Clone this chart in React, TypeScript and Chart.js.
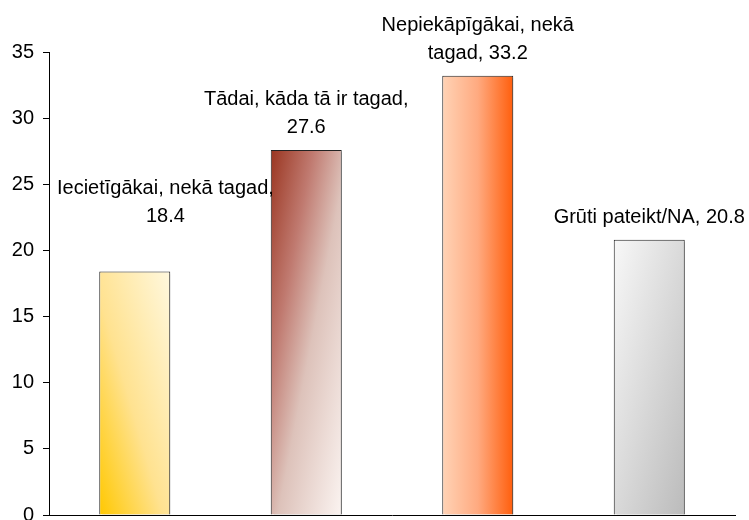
import React, { useEffect, useRef } from 'react';
import { Chart, registerables } from 'chart.js';

Chart.register(...registerables);

const categories = [
  'Iecietīgākai, nekā tagad',
  'Tādai, kāda tā ir tagad',
  'Nepiekāpīgākai, nekā tagad',
  'Grūti pateikt/NA',
];
const values = [18.4, 27.6, 33.2, 20.8];
const yMin = 0;
const yMax = 35;
const yStep = 5;

const FONT = '"Liberation Sans", Arial, sans-serif';
const BAR_PCT = 0.414;

type Grad = { dir: 'diagUp' | 'diagDown' | 'horizontal'; stops: [number, string][] };
const gradients: Grad[] = [
  { dir: 'diagUp', stops: [[0, '#FFC800'], [0.45, '#FFE290'], [1, '#FFF8DE']] },
  { dir: 'diagDown', stops: [[0, '#9A3520'], [0.3, '#C07A70'], [0.55, '#DDC2BA'], [1, '#FBF4F1']] },
  { dir: 'horizontal', stops: [[0, '#FFD3B6'], [0.5, '#FFAA80'], [1, '#FF5E0C']] },
  { dir: 'diagDown', stops: [[0, '#F8F8F8'], [1, '#BBBBBB']] },
];

function wrap(ctx: CanvasRenderingContext2D, text: string, maxWidth: number): string[] {
  const words = text.split(' ');
  const lines: string[] = [];
  let cur = '';
  for (const w of words) {
    const test = cur ? cur + ' ' + w : w;
    if (cur && ctx.measureText(test).width > maxWidth) {
      lines.push(cur);
      cur = w;
    } else {
      cur = test;
    }
  }
  if (cur) lines.push(cur);
  return lines;
}

const shadowPlugin = {
  id: 'barShadow',
  beforeDatasetDraw(chart: any) {
    const ctx = chart.ctx;
    ctx.save();
    ctx.shadowColor = 'rgba(0,0,0,0.15)';
    ctx.shadowOffsetX = 3;
    ctx.shadowOffsetY = 2;
    ctx.shadowBlur = 0;
  },
  afterDatasetDraw(chart: any) {
    chart.ctx.restore();
  },
};

const labelPlugin = {
  id: 'barLabels',
  afterDatasetsDraw(chart: any, _args: any, opts: any) {
    const ctx = chart.ctx as CanvasRenderingContext2D;
    const meta = chart.getDatasetMeta(0);
    ctx.save();
    ctx.font = `${opts.size}px ${FONT}`;
    ctx.fillStyle = '#000';
    ctx.textAlign = 'center';
    ctx.textBaseline = 'alphabetic';
    meta.data.forEach((bar: any, i: number) => {
      const text = `${categories[i]}, ${values[i]}`;
      const lines = wrap(ctx, text, opts.maxWidth);
      const maxW = Math.max(...lines.map((l) => ctx.measureText(l).width));
      let x = bar.x;
      const minX = chart.chartArea.left + opts.edge + maxW / 2;
      if (x < minX) x = minX;
      const lift = (opts.lift && opts.lift[i]) || 0;
      const lastBase = bar.y - opts.gap - lift;
      lines.forEach((l, j) => {
        ctx.fillText(l, x, lastBase - (lines.length - 1 - j) * opts.lineHeight);
      });
    });
    ctx.restore();
  },
};

export default function App() {
  const ref = useRef<HTMLCanvasElement | null>(null);

  useEffect(() => {
    if (!ref.current) return;
    const chart = new Chart(ref.current, {
      type: 'bar',
      data: {
        labels: categories,
        datasets: [
          {
            data: values,
            borderColor: '#222222',
            borderWidth: 1,
            barPercentage: BAR_PCT,
            categoryPercentage: 1,
            backgroundColor: (c: any) => {
              const i = c.dataIndex;
              const g = gradients[i] || gradients[0];
              const ch = c.chart;
              const xs = ch.scales && ch.scales.x;
              const ys = ch.scales && ch.scales.y;
              if (!ch.chartArea || !xs || !ys || i === undefined) return g.stops[0][1];
              const cw = xs.width / categories.length;
              const w = cw * BAR_PCT;
              const cx = xs.getPixelForValue(i);
              const L = cx - w / 2;
              const R = cx + w / 2;
              const T = ys.getPixelForValue(values[i]);
              const B = ys.getPixelForValue(0);
              const h = B - T;
              const k = (2 * w * h) / (h * h + w * w);
              let grad: CanvasGradient;
              if (g.dir === 'horizontal') {
                grad = ch.ctx.createLinearGradient(L, 0, R, 0);
              } else if (g.dir === 'diagDown') {
                grad = ch.ctx.createLinearGradient(L, T, L + h * k, T + w * k);
              } else {
                grad = ch.ctx.createLinearGradient(L, B, L + h * k, B - w * k);
              }
              g.stops.forEach(([o, col]) => grad.addColorStop(o, col));
              return grad;
            },
          },
        ],
      },
      options: {
        animation: false,
        responsive: true,
        maintainAspectRatio: false,
        layout: { padding: { top: 52, right: 14, bottom: 5, left: 0 } },
        plugins: {
          legend: { display: false },
          tooltip: { enabled: false },
          title: { display: false },
          barLabels: { size: 20, maxWidth: 228, gap: 17, lineHeight: 28, edge: 8, lift: [33, 0, 0, 0] },
        } as any,
        scales: {
          x: {
            grid: { display: false },
            ticks: { display: false, padding: 0 },
            border: { display: true, color: '#000', width: 1 },
            afterFit: (s: any) => {
              s.height = 0;
              s.paddingTop = 0;
              s.paddingBottom = 0;
            },
          },
          y: {
            min: yMin,
            max: yMax,
            ticks: {
              stepSize: yStep,
              color: '#000',
              padding: 9,
              font: { family: FONT, size: 20 },
            },
            grid: {
              display: true,
              drawOnChartArea: false,
              drawTicks: true,
              tickLength: 6,
              color: '#000',
            },
            border: { display: true, color: '#000', width: 1 },
            afterFit: (s: any) => {
              s.width = 49;
              s.paddingTop = 0;
              s.paddingBottom = 0;
            },
          },
        },
      },
      plugins: [shadowPlugin, labelPlugin],
    });
    return () => chart.destroy();
  }, []);

  return (
    <div style={{ position: 'absolute', left: 0, top: 0, width: 749, height: 520, background: '#fff' }}>
      <canvas ref={ref} />
    </div>
  );
}
